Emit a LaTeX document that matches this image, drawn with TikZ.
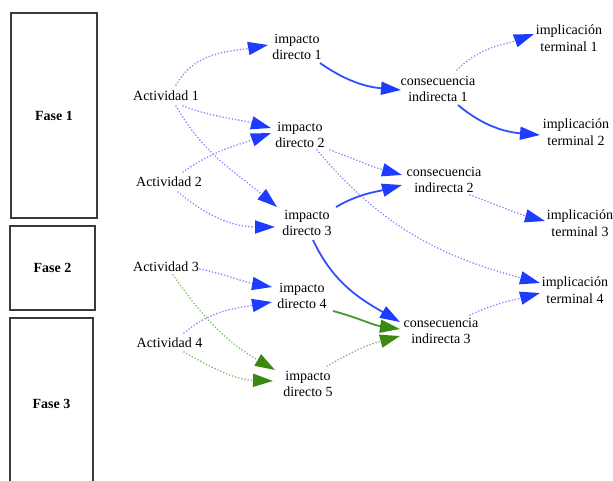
\documentclass[tikz,border=0pt]{standalone}
\usepackage{fontspec}
\setmainfont{Liberation Serif}
\usetikzlibrary{arrows.meta}

\definecolor{edgeblue}{HTML}{3050FF}
\definecolor{tipblue}{HTML}{1E3CFF}
\definecolor{dotblue}{HTML}{8888FF}
\definecolor{edgegreen}{HTML}{4A9828}
\definecolor{tipgreen}{HTML}{3A8A12}
\definecolor{dotgreen}{HTML}{80BC6C}
\definecolor{boxgray}{HTML}{3A3A3A}

\tikzset{
  blueTip/.tip={Triangle[length=20pt,width=13pt,color=tipblue]},
  greenTip/.tip={Triangle[length=20pt,width=13pt,color=tipgreen]},
  lbl/.style={font=\fontsize{14}{16.5}\selectfont, align=center, inner sep=1pt},
  phase/.style={draw=boxgray, line width=1.4pt, inner sep=0pt,
                font=\bfseries\fontsize{14}{16}\selectfont},
  strongblue/.style={edgeblue, line width=1.8pt, -{blueTip}},
  weakblue/.style={dotblue, line width=1.8pt, line cap=round,
                   dash pattern=on 0pt off 3.2pt, -{blueTip}},
  stronggreen/.style={edgegreen, line width=1.8pt, -{greenTip}},
  weakgreen/.style={dotgreen, line width=1.8pt, line cap=round,
                    dash pattern=on 0pt off 3.2pt, -{greenTip}},
}

\begin{document}
\begin{tikzpicture}[x=1pt,y=1pt]
\useasboundingbox (0,0) rectangle (613,-481);
\clip (0,0) rectangle (613,-481);

% phase columns
\node[phase, minimum width=86pt, minimum height=205pt] (f1) at (54,-115.5) {Fase 1};
\node[phase, minimum width=85pt, minimum height=84pt]  (f2) at (52.5,-268) {Fase 2};
\node[phase, minimum width=83pt, minimum height=172pt] (f3) at (51.5,-404) {Fase 3};

% activities
\node[lbl] (a1) at (166,-96)   {Actividad 1};
\node[lbl] (a2) at (169,-182)  {Actividad 2};
\node[lbl] (a3) at (166,-267)  {Actividad 3};
\node[lbl] (a4) at (169.5,-343) {Actividad 4};

% direct impacts
\node[lbl] (i1) at (297,-47)  {impacto\\directo 1};
\node[lbl] (i2) at (300,-135) {impacto\\directo 2};
\node[lbl] (i3) at (307,-223) {impacto\\directo 3};
\node[lbl] (i4) at (302,-296) {impacto\\directo 4};
\node[lbl] (i5) at (308,-384) {impacto\\directo 5};

% indirect consequences
\node[lbl] (c1) at (438,-89)  {consecuencia\\indirecta 1};
\node[lbl] (c2) at (444,-180) {consecuencia\\indirecta 2};
\node[lbl] (c3) at (441,-331) {consecuencia\\indirecta 3};

% terminal implications
\node[lbl] (t1) at (569,-38)  {implicación\\terminal 1};
\node[lbl] (t2) at (576,-132) {implicación\\terminal 2};
\node[lbl] (t3) at (580,-223) {implicación\\terminal 3};
\node[lbl] (t4) at (575,-290) {implicación\\terminal 4};

% activities -> direct impacts
\draw[weakblue]  ([shift={(10,11)}]a1.center)  to[out=60,in=190]  ([shift={(-29,2)}]i1.center);
\draw[weakblue]  ([shift={(17,-10)}]a1.center) to[out=-20,in=165] ([shift={(-29,7)}]i2.center);
\draw[weakblue]  ([shift={(10,-10)}]a1.center) to[out=-60,in=140] ([shift={(-30,16)}]i3.center);
\draw[weakblue]  ([shift={(14,10)}]a2.center)  to[out=35,in=200]  ([shift={(-29,2)}]i2.center);
\draw[weakblue]  ([shift={(9,-10)}]a2.center)  to[out=-40,in=180] ([shift={(-32,-4)}]i3.center);
\draw[weakblue]  ([shift={(34,-2)}]a3.center)  to[out=-12,in=170] ([shift={(-30,9)}]i4.center);
\draw[weakblue]  ([shift={(14.5,10)}]a4.center) to[out=40,in=190] ([shift={(-30,-6)}]i4.center);
\draw[weakgreen] ([shift={(7,-8)}]a3.center)   to[out=-55,in=150] ([shift={(-33,14)}]i5.center);
\draw[weakgreen] ([shift={(14.5,-9)}]a4.center) to[out=-30,in=178] ([shift={(-35,3)}]i5.center);

% direct impacts -> indirect consequences / implications
\draw[strongblue]  ([shift={(23,-16)}]i1.center) to[out=-35,in=175] ([shift={(-37,-1)}]c1.center);
\draw[weakblue]    ([shift={(30,-15)}]i2.center) to[out=-20,in=165] ([shift={(-42,5)}]c2.center);
\draw[weakblue]    ([shift={(17,-15)}]i2.center) to[out=-50,in=165] ([shift={(-35,7)}]t4.center);
\draw[strongblue]  ([shift={(29,16)}]i3.center)  to[out=30,in=195]  ([shift={(-42,-5)}]c2.center);
\draw[strongblue]  ([shift={(6,-17)}]i3.center)  to[out=-65,in=150] ([shift={(-41,9)}]c3.center);
\draw[stronggreen] ([shift={(31,-15)}]i4.center) to[out=-15,in=172] ([shift={(-41,2)}]c3.center);
\draw[weakgreen]   ([shift={(19,18)}]i5.center)  to[out=30,in=195]  ([shift={(-41,-5)}]c3.center);

% indirect consequences -> terminal implications
\draw[weakblue]   ([shift={(19,19)}]c1.center)  to[out=45,in=200]  ([shift={(-35,4)}]t1.center);
\draw[strongblue] ([shift={(20,-16)}]c1.center) to[out=-40,in=175] ([shift={(-36,-3)}]t2.center);
\draw[weakblue]   ([shift={(26,-15)}]c2.center) to[out=-20,in=165] ([shift={(-35,2)}]t3.center);
\draw[weakblue]   ([shift={(29,16)}]c3.center)  to[out=25,in=195]  ([shift={(-35,-3)}]t4.center);
\end{tikzpicture}
\end{document}
